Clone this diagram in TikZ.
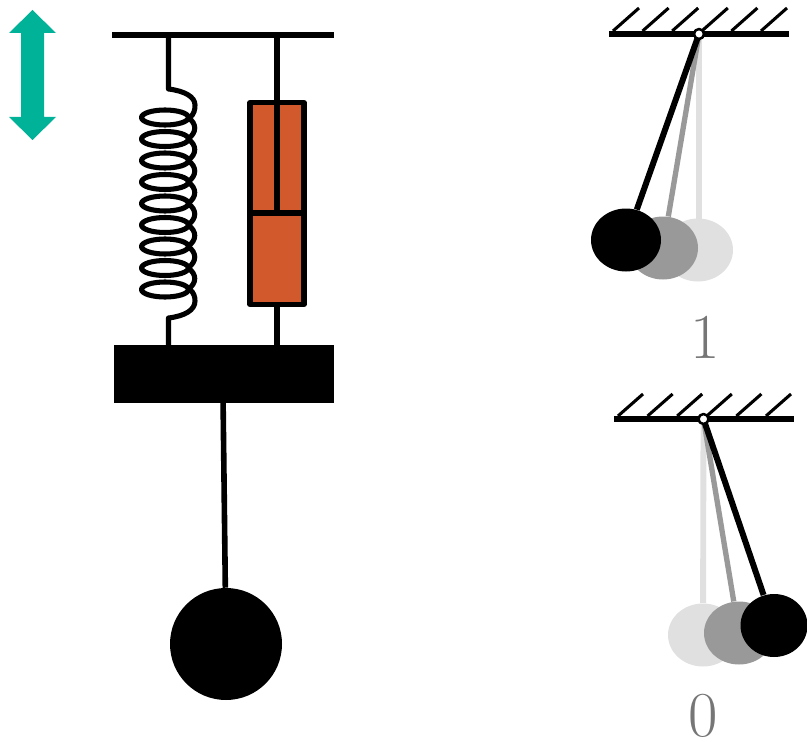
\documentclass[tikz,border=0pt]{standalone}
\usetikzlibrary{shapes.geometric}
\definecolor{arrowgreen}{HTML}{00B398}
\definecolor{damperred}{HTML}{D2592B}
\definecolor{midgray}{HTML}{999999}
\definecolor{palegray}{HTML}{E0E0E0}
\definecolor{labelgray}{HTML}{767676}
\begin{document}
\begin{tikzpicture}[x=0.75pt, y=-0.75pt, line join=round,
    link/.style={line width=3.8pt, black},
    coil/.style={line width=3.8pt, black},
    bar/.style={fill=black, rectangle, inner sep=0pt, minimum width=135pt, minimum height=4.4pt},
    bob/.style={ellipse, inner sep=0pt, minimum width=52pt, minimum height=47.5pt},
    pivot/.style={circle, draw=black, fill=white, line width=1.9pt, inner sep=0pt, minimum size=7.5pt},
    digit/.style={inner sep=0pt, text=labelgray, font=\fontsize{48}{48}\selectfont}]
  \useasboundingbox (0,0) rectangle (807,742);

  % double arrow
  \fill[arrowgreen] (32.5,10) -- (56,33) -- (44,33) -- (44,117) -- (56,117) -- (32.5,140)
    -- (9,117) -- (21,117) -- (21,33) -- (9,33) -- cycle;

  % frame, mass and ball
  \node[bar, minimum height=3.8pt, minimum width=166.5pt] (topbar) at (223,35) {};
  \node[fill=black, rectangle, inner sep=0pt, minimum width=165pt, minimum height=43.5pt] (block) at (224,374) {};
  \node[fill=black, circle, inner sep=0pt, minimum size=84pt] (ball) at (226,644) {};
  \draw[link, line width=4.2pt] (223,395) -- (ball);

  % spring
  \coordinate (springtop) at (168.5,35);
  \coordinate (springbot) at (168.5,345);
  \draw[coil] (springtop) -- (168.5,89) .. controls (185,91) and (195,97) .. (195,105)
    .. controls (195,110) and (194,114) .. (190,117.5);
  \draw[coil] (springbot) -- (168.5,318) .. controls (185,316) and (195,310) .. (195,301)
    .. controls (195,297) and (194,293) .. (190,289.5);
  \foreach \cy in {117.5,139,160.5,182,203.5,225,246.5,268,289.5} {
    \draw[coil] (165,\cy) ellipse [x radius=23.5, y radius=7.5];
  }
  \foreach \cy in {117.5,139,160.5,182,203.5,225,246.5,268} {
    \draw[coil] (188,\cy) .. controls (197,\cy+6) and (197,\cy+15) .. (188,\cy+21.5);
  }

  % damper
  \node[draw=black, fill=damperred, rectangle, line width=4pt, inner sep=0pt,
    minimum width=40.5pt, minimum height=151.5pt] (damper) at (277,203.5) {};
  \coordinate (piston) at (277,213);
  \draw[link] (damper.west |- piston) -- (damper.east |- piston);
  \draw[link] (topbar.center -| damper.north) -- (piston);
  \draw[link] (damper.south) -- (block.north -| damper.south);

  % upper pendulum
  \node[bar] (barone) at (699,34) {};
  \foreach \hx in {0,1,2,3,4,5} {
    \draw[line width=2.3pt] (613+\hx*29.6,31) -- (639+\hx*29.6,8);
  }
  \coordinate (hingeone) at (699,34);
  \node[bob] (bobonea) at (698,250) {};
  \node[bob] (boboneb) at (663,248) {};
  \node[bob] (bobonec) at (626,240) {};
  \draw[palegray, line width=4.4pt] (hingeone) -- (699,250);
  \fill[palegray] (bobonea.center) ellipse [x radius=35, y radius=31.5];
  \draw[midgray, line width=4pt] (hingeone) -- (boboneb);
  \fill[midgray] (boboneb.center) ellipse [x radius=35, y radius=31.5];
  \draw[link, line width=4.5pt] (hingeone) -- (bobonec);
  \fill[black] (bobonec.center) ellipse [x radius=35, y radius=31.5];
  \node[pivot] (pivotone) at (hingeone) {};
  \node[digit] (labelone) at (705,337) {1};

  % lower pendulum
  \node[bar] (bartwo) at (704,419) {};
  \foreach \hx in {0,1,2,3,4,5} {
    \draw[line width=2.3pt] (618+\hx*29.6,416) -- (643+\hx*29.6,394);
  }
  \coordinate (hingetwo) at (703.5,419);
  \node[bob] (bobtwoa) at (703,635) {};
  \node[bob] (bobtwob) at (739,633) {};
  \node[bob] (bobtwoc) at (774,625.5) {};
  \draw[palegray, line width=4.4pt] (hingetwo) -- (bobtwoa);
  \fill[palegray] (bobtwoa.center) ellipse [x radius=35, y radius=31.5];
  \draw[midgray, line width=4pt] (hingetwo) -- (bobtwob);
  \fill[midgray] (bobtwob.center) ellipse [x radius=35, y radius=31.5];
  \draw[link, line width=4.5pt] (hingetwo) -- (bobtwoc);
  \fill[black] (bobtwoc.center) ellipse [x radius=33.5, y radius=31.5];
  \node[pivot] (pivottwo) at (hingetwo) {};
  \node[digit] (labelzero) at (703,716) {0};
\end{tikzpicture}
\end{document}
